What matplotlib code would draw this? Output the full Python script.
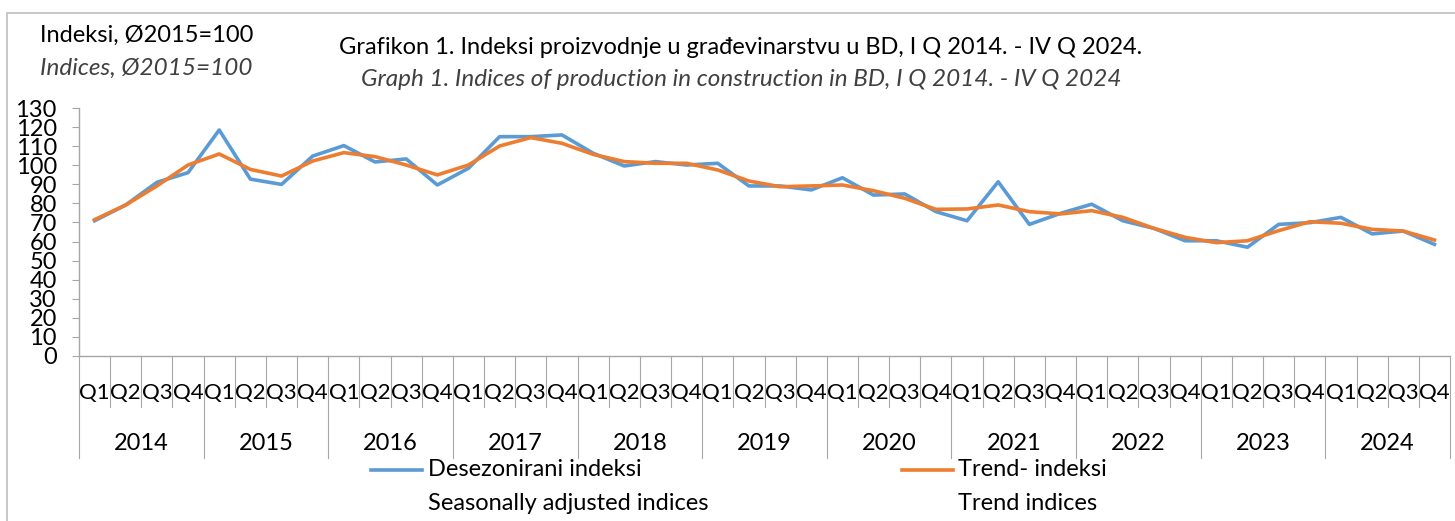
import numpy as np
import matplotlib.pyplot as plt
import matplotlib.transforms as mtransforms
from matplotlib.lines import Line2D
from matplotlib.patches import Rectangle

plt.rcParams['font.family'] = ['Lato', 'DejaVu Sans']

years = [str(y) for y in range(2014, 2025)]
quarters = ["Q1", "Q2", "Q3", "Q4"]

# desezonirani indeksi / seasonally adjusted
seasonal = [70.9, 79.2, 91.1, 96.2, 118.6, 92.8, 90.0, 104.9, 110.4, 101.8, 103.4,
            89.7, 98.5, 115.1, 115.1, 116.0, 106.4, 99.7, 102.0, 100.2, 101.1, 89.2,
            89.2, 87.1, 93.5, 84.4, 85.0, 75.7, 70.9, 91.4, 69.0, 74.8, 79.6,
            70.9, 66.9, 60.4, 60.4, 57.0, 69.0, 69.9, 72.7, 64.0, 65.5, 58.5]
# trend indeksi / trend
trend = [71.5, 79.2, 89.2, 100.2, 106.0, 97.9, 94.4, 102.3, 106.7, 104.6, 100.2,
         95.0, 100.2, 110.2, 114.6, 111.6, 105.8, 102.0, 101.1, 101.1, 97.6, 91.8,
         88.8, 89.2, 89.7, 86.7, 82.7, 76.9, 77.1, 79.2, 75.7, 74.5, 76.2,
         72.7, 66.9, 62.2, 59.4, 60.4, 65.7, 70.4, 69.6, 66.4, 65.5, 60.8]

blue = "#5B9BD5"
orange = "#ED7D31"
grey = "#A6A6A6"

W, H = 1455, 521
fig = plt.figure(figsize=(W / 100, H / 100), dpi=100)
ax = fig.add_axes([79 / W, 1 - 355.7 / H, (1450 - 79) / W, (355.7 - 108.3) / H])

x = np.arange(len(seasonal))
ax.plot(x, seasonal, color=blue, lw=2.6)
ax.plot(x, trend, color=orange, lw=2.6, solid_joinstyle='round')

ax.set_xlim(-0.5, len(x) - 0.5)
ax.set_ylim(0, 130)
ax.set_yticks(range(0, 131, 10))
ax.set_xticks([])
for s in ['top', 'right']:
    ax.spines[s].set_visible(False)
for s in ['left', 'bottom']:
    ax.spines[s].set_color(grey)
    ax.spines[s].set_linewidth(1)
ax.tick_params(axis='y', length=5, color=grey, pad=11, labelsize=17)

# category axis: quarters and years
trans = mtransforms.blended_transform_factory(ax.transData, ax.transAxes)
for i in range(len(x)):
    ax.text(i, -0.151, quarters[i % 4], transform=trans, ha='center', va='center',
            fontsize=16, clip_on=False)
for k, yr in enumerate(years):
    ax.text(4 * k + 1.5, -0.353, yr, transform=trans, ha='center', va='center',
            fontsize=17, clip_on=False)
for i in range(len(x) + 1):
    bottom = -0.413 if i % 4 == 0 else -0.207
    ax.add_line(Line2D([i - 0.5, i - 0.5], [0, bottom], transform=trans,
                       color=grey, lw=0.8, clip_on=False))

# titles
fig.text(40 / W, 1 - 35 / H, "Indeksi, Ø2015=100", fontsize=17, va='center', ha='left')
fig.text(40 / W, 1 - 68 / H, "Indices, Ø2015=100", fontsize=17.5, style='italic',
         color='#404040', va='center', ha='left')
fig.text(741 / W, 1 - 48 / H,
         "Grafikon 1. Indeksi proizvodnje u građevinarstvu u BD, I Q 2014. - IV Q 2024.",
         fontsize=17, va='center', ha='center')
fig.text(741 / W, 1 - 80 / H,
         "Graph 1. Indices of production in construction in BD, I Q 2014. - IV Q 2024",
         fontsize=17.5, style='italic', color='#404040', va='center', ha='center')

# legend
fig.add_artist(Line2D([371 / W, 422 / W], [1 - 470 / H] * 2, color=blue, lw=2.6))
fig.add_artist(Line2D([902 / W, 953 / W], [1 - 470 / H] * 2, color=orange, lw=2.6))
fig.text(428 / W, 1 - 470 / H, "Desezonirani indeksi", fontsize=17, va='center')
fig.text(428 / W, 1 - 503 / H, "Seasonally adjusted indices", fontsize=17, va='center')
fig.text(958 / W, 1 - 470 / H, "Trend- indeksi", fontsize=17, va='center')
fig.text(958 / W, 1 - 503 / H, "Trend indices", fontsize=17, va='center')

# chart border
fig.add_artist(Rectangle((7 / W, -0.1), 1.2, 1 - 13 / H + 0.1, transform=fig.transFigure,
                         fill=False, edgecolor='#BFBFBF', lw=1.2))

fig.savefig("out.png", dpi=100)
